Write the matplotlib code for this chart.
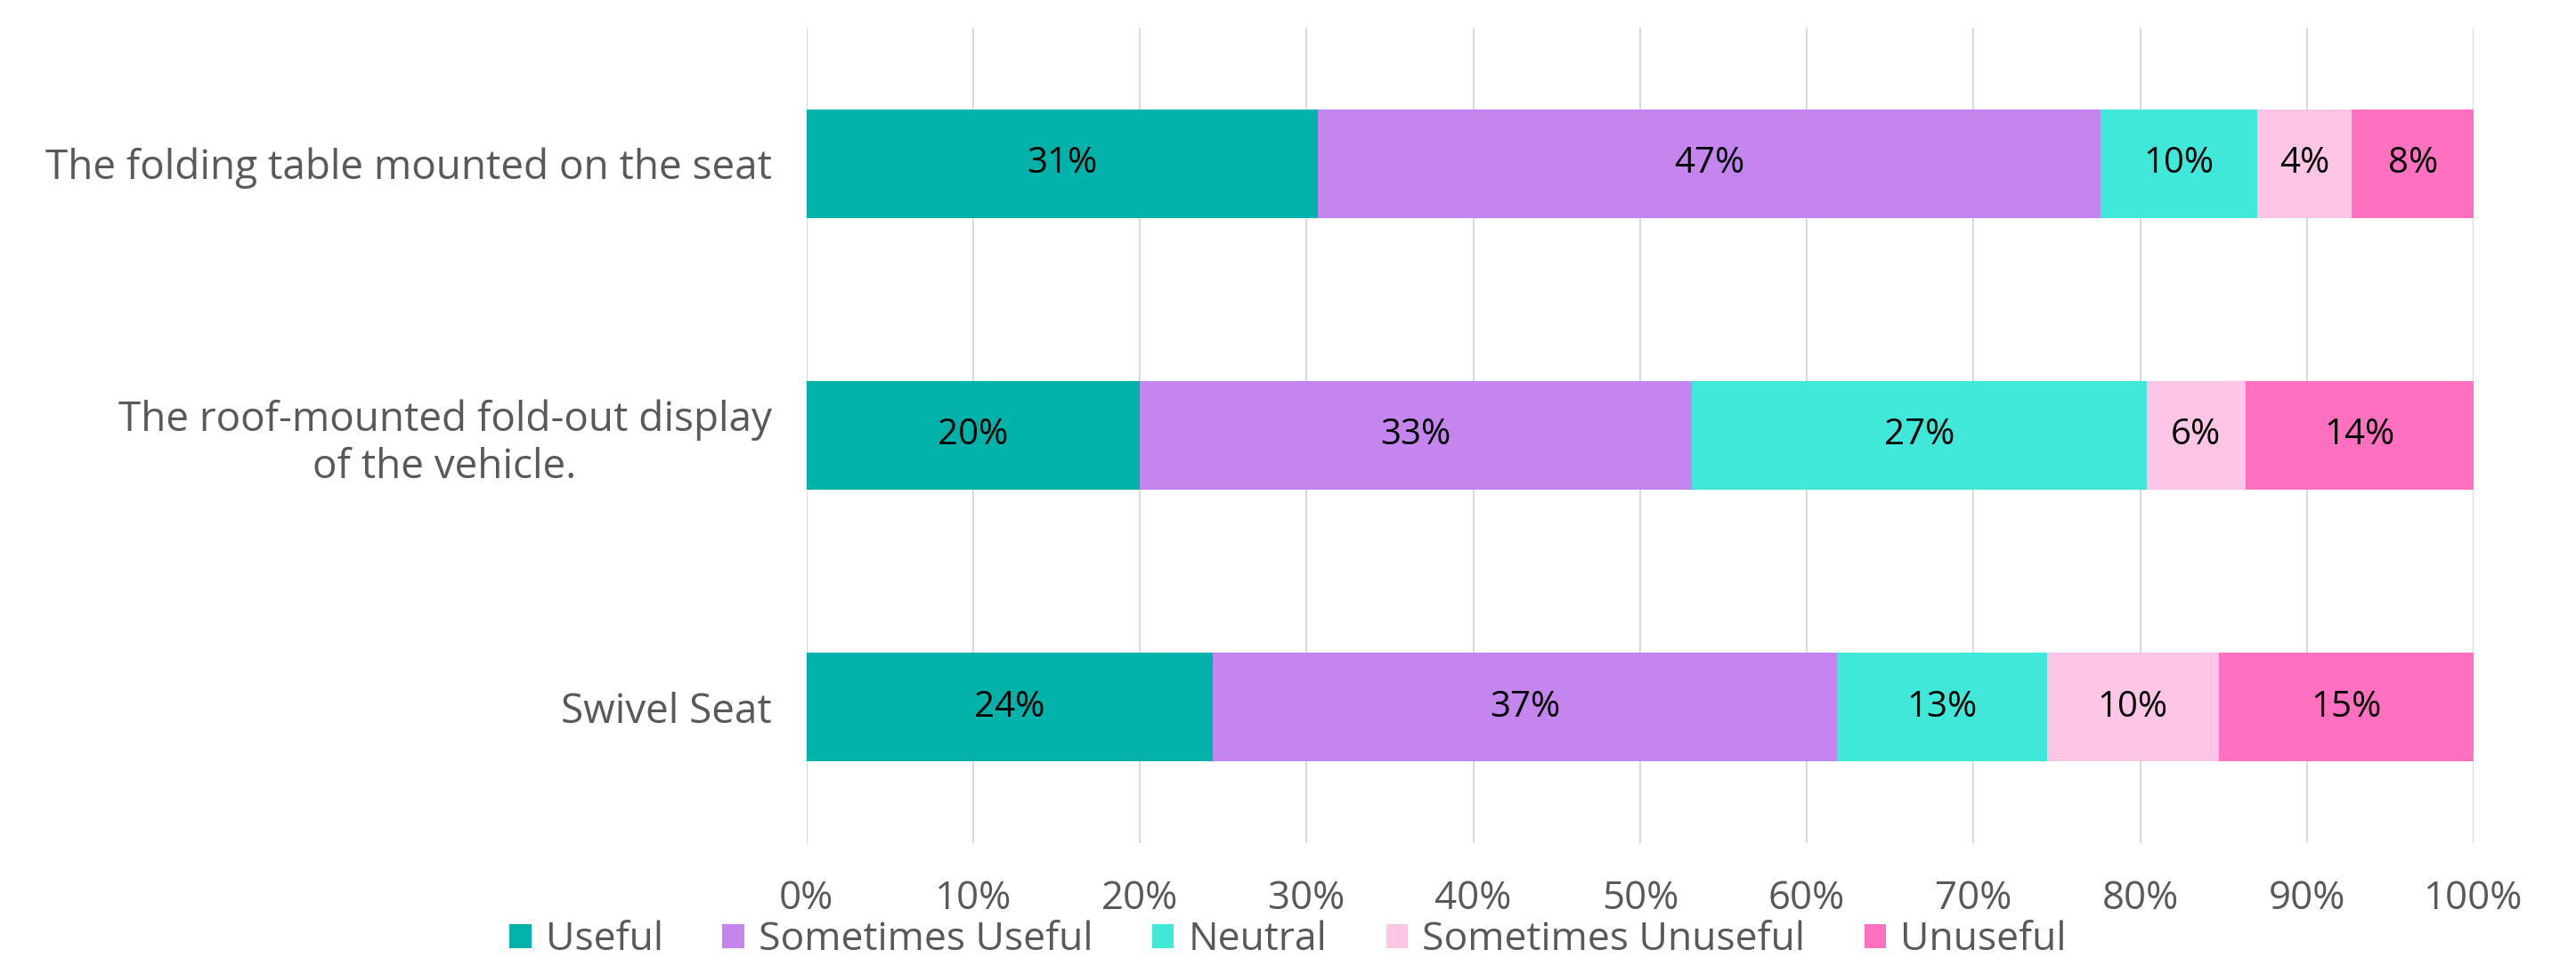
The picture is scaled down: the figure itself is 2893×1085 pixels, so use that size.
import matplotlib.pyplot as plt
import numpy as np

# categories, top to bottom
categories = [
    "The folding table mounted on the seat",
    "The roof-mounted fold-out display\nof the vehicle.",
    "Swivel Seat",
]
series_names = ["Useful", "Sometimes Useful", "Neutral",
                "Sometimes Unuseful", "Unuseful"]

# bar widths (share in %)
useful = [30.7, 20.0, 24.4]
sometimes_useful = [46.9, 33.1, 37.4]
neutral = [9.4, 27.3, 12.6]
sometimes_unuseful = [5.7, 5.9, 10.3]
unuseful = [7.3, 13.7, 15.3]

# printed labels inside the segments
lbl_useful = ["31%", "20%", "24%"]
lbl_sometimes_useful = ["47%", "33%", "37%"]
lbl_neutral = ["10%", "27%", "13%"]
lbl_sometimes_unuseful = ["4%", "6%", "10%"]
lbl_unuseful = ["8%", "14%", "15%"]

x_ticks = [0, 10, 20, 30, 40, 50, 60, 70, 80, 90, 100]

COLORS = ["#00B2A9", "#C486EE", "#40E8DA", "#FFC5E6", "#FF70C0"]
GREY = "#595959"
GRID = "#D9D9D9"

plt.rcParams["font.family"] = ["Open Sans", "DejaVu Sans"]

fig = plt.figure(figsize=(28.93, 10.85), dpi=100)
ax = fig.add_axes([0.3130, 0.1272, 0.6473, 0.8442])

series = [useful, sometimes_useful, neutral, sometimes_unuseful, unuseful]
labels = [lbl_useful, lbl_sometimes_useful, lbl_neutral,
          lbl_sometimes_unuseful, lbl_unuseful]

y = np.arange(len(categories))
left = np.zeros(len(categories))
for name, vals, lbls, col in zip(series_names, series, labels, COLORS):
    bars = ax.barh(y, vals, left=left, height=0.4, color=col, label=name,
                   zorder=2)
    ax.bar_label(bars, labels=lbls, label_type="center", fontsize=29,
                 color="black")
    left += np.array(vals)

ax.set_xlim(0, 100)
ax.set_ylim(-0.5, 2.5)
ax.invert_yaxis()
ax.set_yticks(y)
ax.set_yticklabels(categories, fontsize=33, color=GREY, ha="right",
                   multialignment="center")
ax.set_xticks(x_ticks)
ax.set_xticklabels([f"{t}%" for t in x_ticks], fontsize=31.5, color=GREY)
ax.tick_params(axis="both", length=0)
ax.tick_params(axis="x", pad=29)
ax.tick_params(axis="y", pad=28)
for s in ax.spines.values():
    s.set_visible(False)
ax.grid(axis="x", color=GRID, linewidth=1.4, zorder=0)
ax.set_axisbelow(True)

fig.legend(loc="lower center", bbox_to_anchor=(0.5, -0.014), ncol=5,
           frameon=False, fontsize=32, labelcolor=GREY,
           handlelength=0.55, handleheight=0.55, handletextpad=0.36,
           columnspacing=1.5, borderpad=0.0)

fig.savefig("out.png", dpi=100, facecolor="white")
